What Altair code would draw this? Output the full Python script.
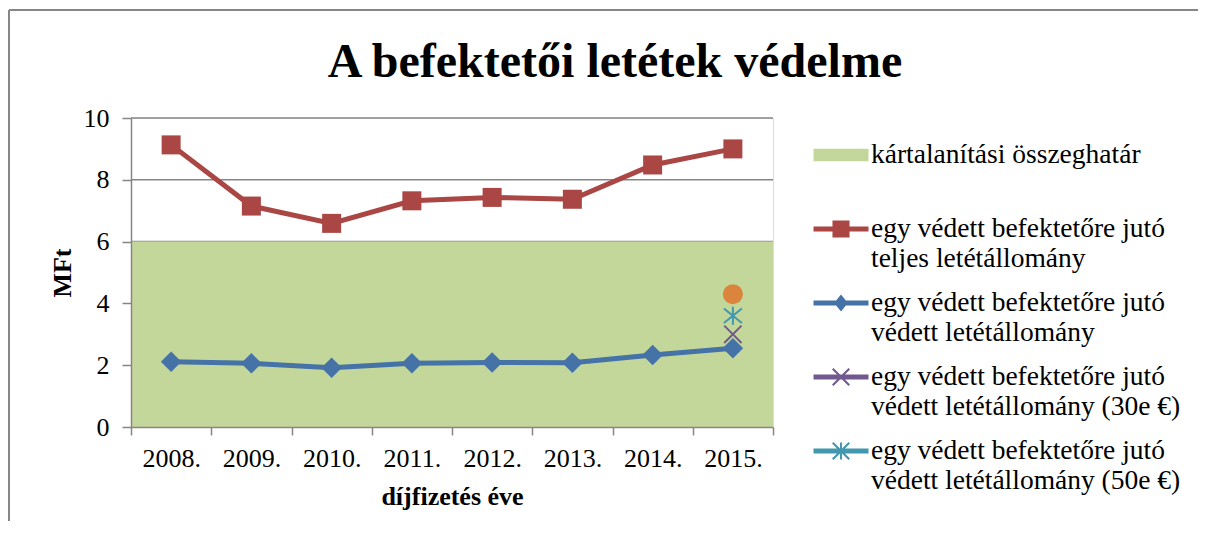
import math
import altair as alt
import pandas as pd

# ---------------- data ----------------
years = ["2008.", "2009.", "2010.", "2011.", "2012.", "2013.", "2014.", "2015."]
total_per_investor = [9.13, 7.15, 6.59, 7.32, 7.43, 7.37, 8.48, 9.00]
protected_per_investor = [2.11, 2.06, 1.92, 2.06, 2.09, 2.08, 2.33, 2.55]
year_2015 = ["2015."]
protected_30e = [3.00]
protected_50e = [3.60]
extra_point = [4.30]
compensation_limit_low = [0.0]
compensation_limit_high = [6.0]
y_ticks = [0, 2, 4, 6, 8, 10]

series_names = [
    "kártalanítási összeghatár",
    "egy védett befektetőre jutó teljes letétállomány",
    "egy védett befektetőre jutó védett letétállomány",
    "egy védett befektetőre jutó védett letétállomány (30e €)",
    "egy védett befektetőre jutó védett letétállomány  (50e €)",
]

# ---------------- styling ----------------
FONT = "Liberation Serif"
GREEN = "#C4D79B"
RED = "#AA4643"
BLUE = "#4572A7"
PURPLE = "#71588F"
TEAL = "#4198AF"
ORANGE = "#DB843D"
GRAY = "#868686"
series_colors = [GREEN, RED, BLUE, PURPLE, TEAL]


def rect_path(x0, y0, x1, y1):
    return f"M{x0:.3f},{y0:.3f}H{x1:.3f}V{y1:.3f}H{x0:.3f}Z"


def x_cross_path(L, t):
    pts = [(t, -L), (t, -t), (L, -t), (L, t), (t, t), (t, L),
           (-t, L), (-t, t), (-L, t), (-L, -t), (-t, -t), (-t, -L)]
    s = 1 / math.sqrt(2)
    rot = [((x - y) * s, (x + y) * s) for x, y in pts]
    return "M" + "L".join(f"{x:.3f},{y:.3f}" for x, y in rot) + "Z"


bar = rect_path(-2, -0.18, 2, 0.18)
legend_shapes = [
    rect_path(-2, -0.45, 2, 0.45),
    bar + " " + rect_path(-0.62, -0.62, 0.62, 0.62),
    bar + " M0,-0.62L0.5,0L0,0.62L-0.5,0Z",
    bar + " " + x_cross_path(0.85, 0.075),
    bar + " " + x_cross_path(0.85, 0.075) + " " + rect_path(-0.075, -0.62, 0.075, 0.62),
]

x_enc = alt.X(
    "year:N",
    sort=years,
    scale=alt.Scale(type="band", domain=years, paddingInner=0, paddingOuter=0),
    axis=alt.Axis(
        title="díjfizetés éve", labelAngle=0, tickBand="extent", tickSize=8,
        tickColor=GRAY, tickWidth=1.5, domainColor=GRAY, domainWidth=1.5,
        labelFont=FONT, labelFontSize=26, labelColor="black", labelPadding=10,
        titleFont=FONT, titleFontSize=26, titleFontWeight="bold", titleColor="black",
        titlePadding=12, grid=False, zindex=1,
    ),
)


def y_enc(field):
    return alt.Y(
        f"{field}:Q",
        scale=alt.Scale(domain=[0, 10], nice=False),
        axis=alt.Axis(
            title="MFt", values=y_ticks, tickSize=9, tickColor=GRAY, tickWidth=1.5,
            domainColor=GRAY, domainWidth=1.5, labelFont=FONT, labelFontSize=26,
            labelColor="black", labelPadding=13, titleFont=FONT, titleFontSize=26,
            titleFontWeight="bold", titleColor="black", titlePadding=8, grid=False,
            zindex=1,
        ),
    )


main_df = pd.DataFrame({"year": years, "total": total_per_investor,
                        "protected": protected_per_investor})
extra_df = pd.DataFrame({"year": year_2015, "p30": protected_30e,
                         "p50": protected_50e, "extra": extra_point})
limit_df = pd.DataFrame({"low": compensation_limit_low, "high": compensation_limit_high})
grid_df = pd.DataFrame({"v": y_ticks})
legend_df = pd.DataFrame({"series": series_names})
one = pd.DataFrame({"a": [0]})

grid = alt.Chart(grid_df).mark_rule(color=GRAY, strokeWidth=1.5).encode(y=y_enc("v"))

band = alt.Chart(limit_df).mark_rect(color=GREEN).encode(
    y=y_enc("low"), y2=alt.Y2("high:Q"))

x30 = alt.Chart(extra_df).mark_point(
    shape="M-1,-1L1,1M-1,1L1,-1", filled=False, size=300, strokeWidth=2,
    color=PURPLE, opacity=1).encode(x=x_enc, y=y_enc("p30"))
x50 = alt.Chart(extra_df).mark_point(
    shape="M-1,-0.8L1,0.8M-1,0.8L1,-0.8M0,-1V1", filled=False, size=324,
    strokeWidth=2, color=TEAL, opacity=1).encode(x=x_enc, y=y_enc("p50"))
circ = alt.Chart(extra_df).mark_point(
    shape="circle", filled=True, size=400, color=ORANGE, opacity=1).encode(
    x=x_enc, y=y_enc("extra"))

red_line = alt.Chart(main_df).mark_line(color=RED, strokeWidth=5).encode(
    x=x_enc, y=y_enc("total"))
red_pts = alt.Chart(main_df).mark_point(
    shape="square", filled=True, size=361, color=RED, opacity=1).encode(
    x=x_enc, y=y_enc("total"))
blue_line = alt.Chart(main_df).mark_line(color=BLUE, strokeWidth=5).encode(
    x=x_enc, y=y_enc("protected"))
blue_pts = alt.Chart(main_df).mark_point(
    shape="diamond", filled=True, size=420, color=BLUE, opacity=1).encode(
    x=x_enc, y=y_enc("protected"))

label_expr = (
    "datum.label == 'kártalanítási összeghatár' ? [datum.label, ''] : "
    "split(replace(datum.label, 'jutó ', 'jutó|'), '|')"
)
legend = alt.Legend(
    title=None, orient="none", legendX=682, legendY=23, padding=0,
    symbolSize=756, symbolOffset=14, labelOffset=16, symbolStrokeWidth=0,
    symbolOpacity=1, labelFont=FONT, labelFontSize=27.5, labelColor="black",
    labelLimit=500, labelBaseline="middle", rowPadding=17, labelExpr=label_expr,
)
legend_layer = alt.Chart(legend_df).mark_point(filled=True, opacity=1).encode(
    color=alt.Color("series:N", scale=alt.Scale(domain=series_names, range=series_colors),
                    legend=legend, sort=series_names),
    shape=alt.Shape("series:N", scale=alt.Scale(domain=series_names, range=legend_shapes),
                    legend=legend, sort=series_names),
).transform_filter("false")

border_left = alt.Chart(one).mark_rule(color=GRAY, strokeWidth=2).encode(
    x=alt.value(-122), y=alt.value(-108), y2=alt.value(420))
border_top = alt.Chart(one).mark_rule(color=GRAY, strokeWidth=2).encode(
    x=alt.value(-122), x2=alt.value(1080), y=alt.value(-108))

chart = alt.layer(
    grid, band, x30, x50, circ, red_line, red_pts, blue_line, blue_pts,
    legend_layer, border_left, border_top,
).properties(
    width=642, height=309,
    title=alt.TitleParams(
        "A befektetői letétek védelme", font=FONT, fontSize=48, fontWeight="bold",
        color="black", anchor="middle", dx=163, offset=18, dy=96,
    ),
    padding={"left": 123, "top": 110, "right": 425, "bottom": 94},
    autosize=alt.AutoSizeParams(type="none"),
).configure_view(stroke=None).configure(background="white")

chart.save("out.html", embed_options={"renderer": "svg", "actions": False})
